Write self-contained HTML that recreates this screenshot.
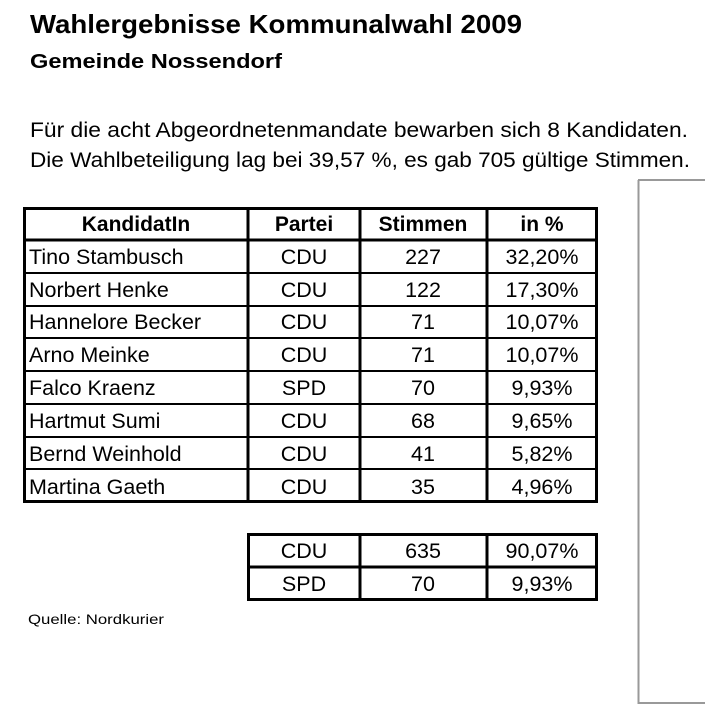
<!DOCTYPE html>
<html><head><meta charset="utf-8"><style>
html,body{margin:0;padding:0;background:#fff;}
svg{display:block;}
text{font-family:"Liberation Sans",sans-serif;fill:#000;}
</style></head><body>
<svg width="705" height="713" viewBox="0 0 705 713" xmlns="http://www.w3.org/2000/svg">
<rect width="705" height="713" fill="#fff"/>
<text x="30" y="33" font-size="26" font-weight="bold" textLength="492" lengthAdjust="spacingAndGlyphs">Wahlergebnisse Kommunalwahl 2009</text>
<text x="30" y="68" font-size="20" font-weight="bold" textLength="252" lengthAdjust="spacingAndGlyphs">Gemeinde Nossendorf</text>
<text x="30" y="137" font-size="21" textLength="658" lengthAdjust="spacingAndGlyphs">Für die acht Abgeordnetenmandate bewarben sich 8 Kandidaten.</text>
<text x="30" y="167" font-size="21" textLength="660" lengthAdjust="spacingAndGlyphs">Die Wahlbeteiligung lag bei 39,57 %, es gab 705 gültige Stimmen.</text>
<path d="M638 180 H705 M638.5 180 V703 H705" stroke="#999" stroke-width="2" fill="none"/>
<g stroke="#000" fill="none">
<rect x="24.5" y="208.5" width="572" height="293" stroke-width="3"/>
<line x1="24" y1="240" x2="597" y2="240" stroke-width="3"/>
<line x1="24" y1="273" x2="597" y2="273" stroke-width="2"/>
<line x1="24" y1="306" x2="597" y2="306" stroke-width="2"/>
<line x1="24" y1="338" x2="597" y2="338" stroke-width="2"/>
<line x1="24" y1="371" x2="597" y2="371" stroke-width="2"/>
<line x1="24" y1="404" x2="597" y2="404" stroke-width="2"/>
<line x1="24" y1="437" x2="597" y2="437" stroke-width="2"/>
<line x1="24" y1="469" x2="597" y2="469" stroke-width="2"/>
<line x1="248" y1="208" x2="248" y2="502" stroke-width="3"/>
<line x1="360" y1="208" x2="360" y2="502" stroke-width="3"/>
<line x1="487" y1="208" x2="487" y2="502" stroke-width="3"/>
<rect x="248.5" y="534.5" width="348" height="65" stroke-width="3"/>
<line x1="248" y1="567" x2="597" y2="567" stroke-width="3"/>
<line x1="360" y1="534" x2="360" y2="600" stroke-width="3"/>
<line x1="487" y1="534" x2="487" y2="600" stroke-width="3"/>
</g>
<g font-size="21" font-weight="bold" text-anchor="middle">
<text x="136" y="231">KandidatIn</text>
<text x="304" y="231">Partei</text>
<text x="423" y="231">Stimmen</text>
<text x="542" y="231">in %</text>
</g>
<g font-size="21.5">
<g text-anchor="start">
<text x="29" y="264">Tino Stambusch</text>
<text x="29" y="297">Norbert Henke</text>
<text x="29" y="329">Hannelore Becker</text>
<text x="29" y="362">Arno Meinke</text>
<text x="29" y="395">Falco Kraenz</text>
<text x="29" y="428">Hartmut Sumi</text>
<text x="29" y="461">Bernd Weinhold</text>
<text x="29" y="494">Martina Gaeth</text>
</g>
<g text-anchor="middle">
<text x="304" y="264">CDU</text><text x="423" y="264">227</text><text x="542" y="264">32,20%</text>
<text x="304" y="297">CDU</text><text x="423" y="297">122</text><text x="542" y="297">17,30%</text>
<text x="304" y="329">CDU</text><text x="423" y="329">71</text><text x="542" y="329">10,07%</text>
<text x="304" y="362">CDU</text><text x="423" y="362">71</text><text x="542" y="362">10,07%</text>
<text x="304" y="395">SPD</text><text x="423" y="395">70</text><text x="542" y="395">9,93%</text>
<text x="304" y="428">CDU</text><text x="423" y="428">68</text><text x="542" y="428">9,65%</text>
<text x="304" y="461">CDU</text><text x="423" y="461">41</text><text x="542" y="461">5,82%</text>
<text x="304" y="494">CDU</text><text x="423" y="494">35</text><text x="542" y="494">4,96%</text>
<text x="304" y="558">CDU</text><text x="423" y="558">635</text><text x="542" y="558">90,07%</text>
<text x="304" y="591">SPD</text><text x="423" y="591">70</text><text x="542" y="591">9,93%</text>
</g>
</g>
<text x="28" y="624" font-size="14" textLength="136" lengthAdjust="spacingAndGlyphs">Quelle: Nordkurier</text>
</svg>
</body></html>
